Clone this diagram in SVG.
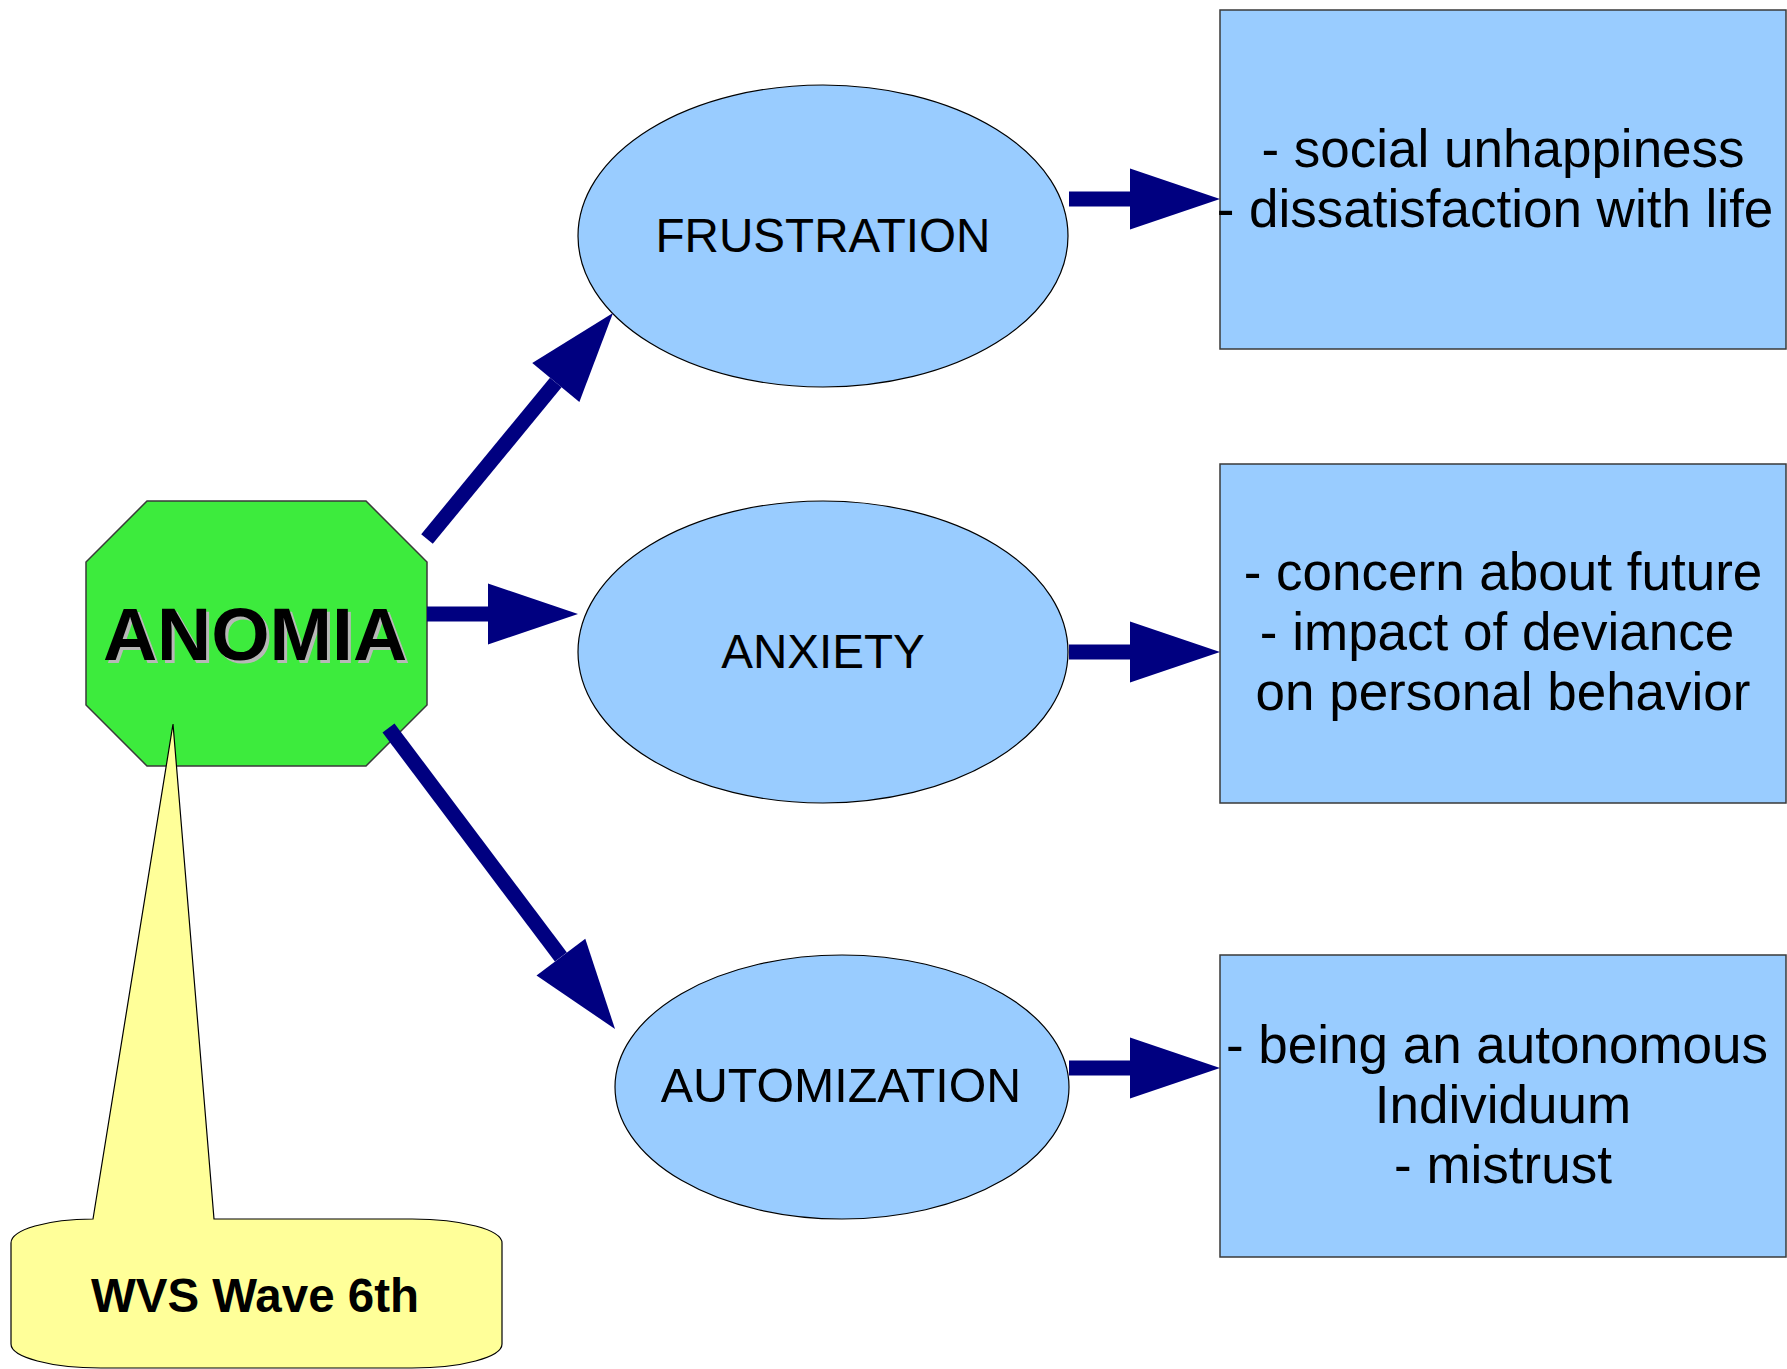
<svg xmlns="http://www.w3.org/2000/svg" width="1787" height="1369" viewBox="0 0 1787 1369">
<style>
.bg{fill:#ffffff}
.ell{fill:#99ccff;stroke:#000;stroke-width:1.2}
.box{fill:#99ccff;stroke:#3a3a3a;stroke-width:1.5}
.oct{fill:#3deb3d;stroke:#3a3a3a;stroke-width:1.5}
.call{fill:#ffff99;stroke:#000;stroke-width:1.2}
.lbl{font-family:"Liberation Sans",Arial,sans-serif;font-size:47.6px;fill:#000;text-anchor:middle}
.txt{font-family:"Liberation Sans",Arial,sans-serif;font-size:53px;fill:#000;text-anchor:middle}
.big{font-family:"Liberation Sans",Arial,sans-serif;font-size:75px;font-weight:bold;text-anchor:middle}
.wvs{font-family:"Liberation Sans",Arial,sans-serif;font-size:47.5px;font-weight:bold;fill:#000;text-anchor:middle}
.arr{stroke:#000080;stroke-width:15;fill:none;marker-end:url(#head)}
</style>
<defs>
<marker id="head" markerUnits="userSpaceOnUse" markerWidth="92" markerHeight="62" viewBox="0 -31 92 62" refX="0" refY="0" orient="auto" overflow="visible">
<path d="M0,-30.5 L90,0 L0,30.5 Z" fill="#000080"/>
</marker>
</defs>
<rect class="bg" x="0" y="0" width="1787" height="1369"/>
<g id="anomia">
<polygon class="oct" points="147,501 366,501 427,562 427,705 366,766 147,766 86,705 86,562"/>
<text class="big" x="258" y="663" fill="#b8b8b8">ANOMIA</text>
<text class="big" x="255" y="660" fill="#000">ANOMIA</text>
</g>
<g id="frustration">
<ellipse class="ell" cx="823" cy="236" rx="245" ry="151"/>
<text class="lbl" x="823" y="252">FRUSTRATION</text>
</g>
<g id="anxiety">
<ellipse class="ell" cx="823" cy="652" rx="245" ry="151"/>
<text class="lbl" x="823" y="668">ANXIETY</text>
</g>
<g id="automization">
<ellipse class="ell" cx="842" cy="1087" rx="227" ry="132"/>
<text class="lbl" x="841" y="1102" style="font-size:48.3px">AUTOMIZATION</text>
</g>
<g id="box1">
<rect class="box" x="1220" y="10" width="566" height="339"/>
<text class="txt" x="1503" y="167">- social unhappiness</text>
<text class="txt" x="1495" y="227">- dissatisfaction with life</text>
</g>
<g id="box2">
<rect class="box" x="1220" y="464" width="566" height="339"/>
<text class="txt" x="1503" y="590">- concern about future</text>
<text class="txt" x="1497" y="650">- impact of deviance</text>
<text class="txt" x="1503" y="710">on personal behavior</text>
</g>
<g id="box3">
<rect class="box" x="1220" y="955" width="566" height="302"/>
<text class="txt" x="1497" y="1063">- being an autonomous</text>
<text class="txt" x="1503" y="1123">Individuum</text>
<text class="txt" x="1503" y="1183">- mistrust</text>
</g>
<g id="connectors">
<line class="arr" x1="427" y1="539" x2="555.8" y2="382.5"/>
<line class="arr" x1="427" y1="614" x2="488" y2="614"/>
<line class="arr" x1="388.5" y1="728" x2="560.9" y2="957.1"/>
<line class="arr" x1="1069" y1="199" x2="1130" y2="199"/>
<line class="arr" x1="1069" y1="652" x2="1130" y2="652"/>
<line class="arr" x1="1069" y1="1068" x2="1130" y2="1068"/>
</g>
<g id="wvs">
<path class="call" d="M93,1219 L173,724 L214,1219 L412,1219 A90,24 0 0 1 502,1243 L502,1344 A90,24 0 0 1 412,1368 L101,1368 A90,24 0 0 1 11,1344 L11,1243 A82,24 0 0 1 93,1219 Z"/>
<text class="wvs" x="255" y="1312">WVS Wave 6th</text>
</g>
</svg>
